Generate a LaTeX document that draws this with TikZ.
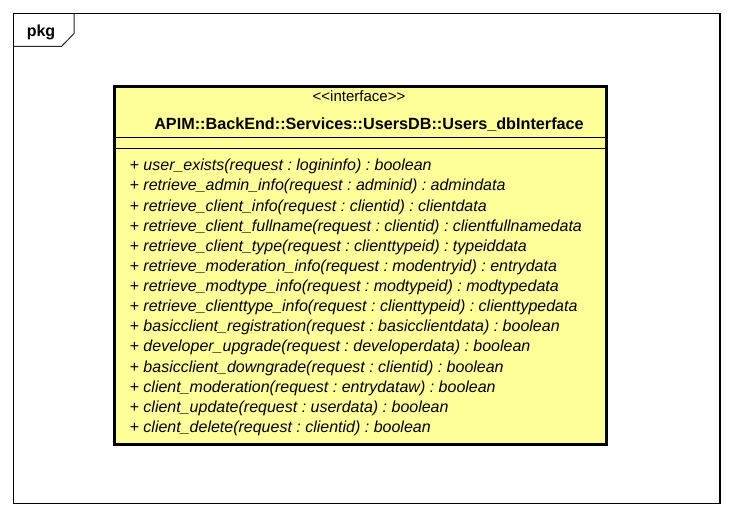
\documentclass[tikz,border=0pt]{standalone}
\usepackage{fontspec}
\setmainfont{Liberation Sans}
\frenchspacing
\definecolor{clsfill}{RGB}{255,255,153}
\definecolor{tabline}{RGB}{40,40,40}
\begin{document}
\begin{tikzpicture}[x=1pt,y=-1pt,
  optext/.style={anchor=base west,inner sep=0pt,font=\fontsize{16}{18}\selectfont\itshape\frenchspacing},
  frameline/.style={draw=black,line width=1.1pt},
  clsbox/.style={draw=black,fill=clsfill,line width=3pt},
  sepline/.style={draw=black,line width=0.9pt}]
\useasboundingbox (0,0) rectangle (733,518);
% package frame
\draw[frameline] (13.5,13.5) rectangle (720,503.5);
\coordinate (t1) at (74,13.5);
\coordinate (t2) at (74,33.5);
\coordinate (t3) at (61.5,46.5);
\coordinate (t4) at (13.5,46.5);
\draw[draw=tabline,line width=1pt] (t1) -- (t2) -- (t3) -- (t4);
\node[anchor=base,inner sep=0pt,font=\fontsize{16}{18}\selectfont\bfseries] (pkg) at (41,36.5) {pkg};
% class box
\draw[clsbox] (114.5,86.5) rectangle (606,444);
\coordinate (s1l) at (114.5,137.5);
\coordinate (s1r) at (606,137.5);
\coordinate (s2l) at (114.5,148.5);
\coordinate (s2r) at (606,148.5);
\draw[sepline] (s1l) -- (s1r);
\draw[sepline] (s2l) -- (s2r);
\node[anchor=base,inner sep=0pt,font=\fontsize{15}{18}\selectfont] (stereo) at (359,101.5) {<{}<interface>{}>};
\node[anchor=base,inner sep=0pt,font=\fontsize{16.2}{18}\selectfont\bfseries] (cname) at (369,129.5) {APIM::BackEnd::Services::UsersDB::Users\_dbInterface};
% operations
\node[optext] (o1) at (129.5,170.8) {+ user\_exists(request : logininfo) : boolean};
\node[optext] (o2) at (129.5,190.93) {+ retrieve\_admin\_info(request : adminid) : admindata};
\node[optext] (o3) at (129.5,211.06) {+ retrieve\_client\_info(request : clientid) : clientdata};
\node[optext] (o4) at (129.5,231.19) {+ retrieve\_client\_fullname(request : clientid) : clientfullnamedata};
\node[optext] (o5) at (129.5,251.32) {+ retrieve\_client\_type(request : clienttypeid) : typeiddata};
\node[optext] (o6) at (129.5,271.45) {+ retrieve\_moderation\_info(request : modentryid) : entrydata};
\node[optext] (o7) at (129.5,291.58) {+ retrieve\_modtype\_info(request : modtypeid) : modtypedata};
\node[optext] (o8) at (129.5,311.71) {+ retrieve\_clienttype\_info(request : clienttypeid) : clienttypedata};
\node[optext] (o9) at (129.5,331.84) {+ basicclient\_registration(request : basicclientdata) : boolean};
\node[optext] (o10) at (129.5,351.97) {+ developer\_upgrade(request : developerdata) : boolean};
\node[optext] (o11) at (129.5,372.1) {+ basicclient\_downgrade(request : clientid) : boolean};
\node[optext] (o12) at (129.5,392.23) {+ client\_moderation(request : entrydataw) : boolean};
\node[optext] (o13) at (129.5,412.36) {+ client\_update(request : userdata) : boolean};
\node[optext] (o14) at (129.5,432.5) {+ client\_delete(request : clientid) : boolean};
\end{tikzpicture}
\end{document}
